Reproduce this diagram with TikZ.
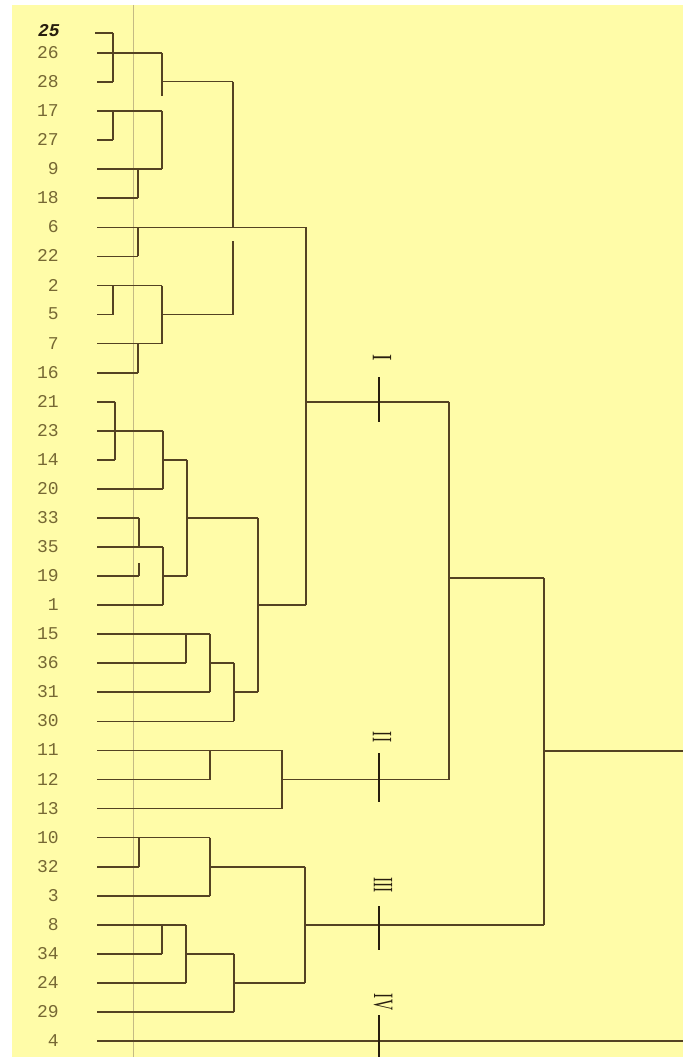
\documentclass[tikz,border=0pt]{standalone}
\usepackage{fontspec}
\setmonofont{Liberation Mono}
\newfontfamily\romfont{Liberation Serif}
\definecolor{paper}{RGB}{255,252,168}
\definecolor{ink}{RGB}{84,66,34}
\definecolor{labink}{RGB}{118,104,52}
\definecolor{pen}{RGB}{40,30,14}
\definecolor{fold}{RGB}{196,186,132}
\tikzset{
  leaflab/.style={anchor=east,inner sep=0pt,text=labink,font=\ttfamily\fontsize{18}{18}\selectfont},
  handlab/.style={anchor=east,inner sep=0pt,text=pen,font=\ttfamily\bfseries\itshape\fontsize{18}{18}\selectfont},
  tree/.style={draw=ink,line width=1.7pt},
  marker/.style={draw=pen,line width=2.8pt},
  roman/.style={rotate=-90,inner sep=0pt,text=pen,font=\romfont\fontsize{28}{28}\selectfont}
}
\begin{document}
\begin{tikzpicture}[x=1pt,y=-1pt]
\useasboundingbox (0,0) rectangle (683,1057);
\fill[white] (0,0) rectangle (683,1057);
\fill[paper] (12,5) rectangle (683,1057);
\draw[fold,line width=0.8pt] (133,5) -- (133,1057);

% leaves: label / row y / end x of leaf line
\foreach \lab/\yy/\ex in {
  26/53/162, 28/82.1/113, 17/111.1/162, 27/140.2/113, 9/169.2/162,
  18/198.3/138, 6/227.4/306, 22/256.4/138, 2/285.5/162, 5/314.5/113,
  7/343.6/162, 16/372.7/138, 21/401.7/115, 23/430.8/163, 14/459.8/115,
  20/488.9/163, 33/518/139, 35/547/163, 19/576.1/139, 1/605.1/163,
  15/634.2/210, 36/663.3/186, 31/692.3/210, 30/721.4/234, 11/750.4/282,
  12/779.5/210, 13/808.6/282, 10/837.6/210, 32/866.7/139, 3/895.7/210,
  8/924.8/186, 34/953.9/162, 24/982.9/186, 29/1012/234, 4/1041/683}{
  \node[leaflab] (n\lab) at (59,\yy-0.5) {\lab};
  \coordinate (s\lab) at (97,\yy);
  \coordinate (e\lab) at (\ex,\yy);
  \draw[tree] (s\lab) -- (e\lab);
}
\node[handlab] (n25) at (60,31) {25};
\coordinate (s25) at (95,33);
\coordinate (e25) at (113,33);
\draw[tree] (s25) -- (e25);

% vertical joins
\draw[tree] (113,33) -- (113,82.1);
\draw[tree] (113,111.1) -- (113,140.2);
\draw[tree] (113,285.5) -- (113,314.5);
\draw[tree] (115,401.7) -- (115,459.8);
\draw[tree] (162,53) -- (162,96);
\draw[tree] (162,111.1) -- (162,169.2);
\draw[tree] (162,285.5) -- (162,343.6);
\draw[tree] (162,924.8) -- (162,953.9);
\draw[tree] (163,430.8) -- (163,488.9);
\draw[tree] (163,547) -- (163,605.1);
\draw[tree] (138,169.2) -- (138,198.3);
\draw[tree] (138,227.4) -- (138,256.4);
\draw[tree] (138,343.6) -- (138,372.7);
\draw[tree] (139,518) -- (139,547);
\draw[tree] (139,563) -- (139,576.1);
\draw[tree] (139,837.6) -- (139,866.7);
\draw[tree] (186,634.2) -- (186,663.3);
\draw[tree] (186,924.8) -- (186,982.9);
\draw[tree] (187,459.8) -- (187,576.1);
\draw[tree] (210,634.2) -- (210,692.3);
\draw[tree] (210,750.4) -- (210,779.5);
\draw[tree] (210,837.6) -- (210,895.7);
\draw[tree] (233,81.5) -- (233,227.4);
\draw[tree] (233,241) -- (233,314.5);
\draw[tree] (234,663.3) -- (234,721.4);
\draw[tree] (234,953.9) -- (234,1012);
\draw[tree] (258,518) -- (258,692.3);
\draw[tree] (282,750.4) -- (282,808.6);
\draw[tree] (306,227.4) -- (306,605.1);
\draw[tree] (305,866.7) -- (305,982.9);
\draw[tree] (449,401.7) -- (449,779.5);
\draw[tree] (544,578) -- (544,924.8);

% horizontal links between clusters
\draw[tree] (162,81.5) -- (233,81.5);
\draw[tree] (162,314.5) -- (233,314.5);
\draw[tree] (163,459.8) -- (187,459.8);
\draw[tree] (163,576.1) -- (187,576.1);
\draw[tree] (187,518) -- (258,518);
\draw[tree] (258,605.1) -- (306,605.1);
\draw[tree] (210,663.3) -- (234,663.3);
\draw[tree] (234,692.3) -- (258,692.3);
\draw[tree] (282,779.5) -- (449,779.5);
\draw[tree] (306,401.7) -- (449,401.7);
\draw[tree] (449,578) -- (544,578);
\draw[tree] (210,866.7) -- (305,866.7);
\draw[tree] (186,953.9) -- (234,953.9);
\draw[tree] (234,982.9) -- (305,982.9);
\draw[tree] (305,924.8) -- (544,924.8);
\draw[tree] (544,751) -- (683,751);

% group cuts with roman numerals
\node[roman] (rI) at (382,358) {\scalebox{0.7}[1]{I}};
\node[roman] (rII) at (382,737) {\scalebox{0.55}[1]{II}};
\node[roman] (rIII) at (383,885) {\scalebox{0.55}[1]{III}};
\node[roman] (rIV) at (383,1002) {\scalebox{0.55}[1]{IV}};
\coordinate (mIa) at (379,377); \coordinate (mIb) at (379,422);
\coordinate (mIIa) at (379,753); \coordinate (mIIb) at (379,802);
\coordinate (mIIIa) at (379,906); \coordinate (mIIIb) at (379,950);
\coordinate (mIVa) at (379,1015); \coordinate (mIVb) at (379,1057);
\draw[marker] (mIa) -- (mIb);
\draw[marker] (mIIa) -- (mIIb);
\draw[marker] (mIIIa) -- (mIIIb);
\draw[marker] (mIVa) -- (mIVb);
\end{tikzpicture}
\end{document}
